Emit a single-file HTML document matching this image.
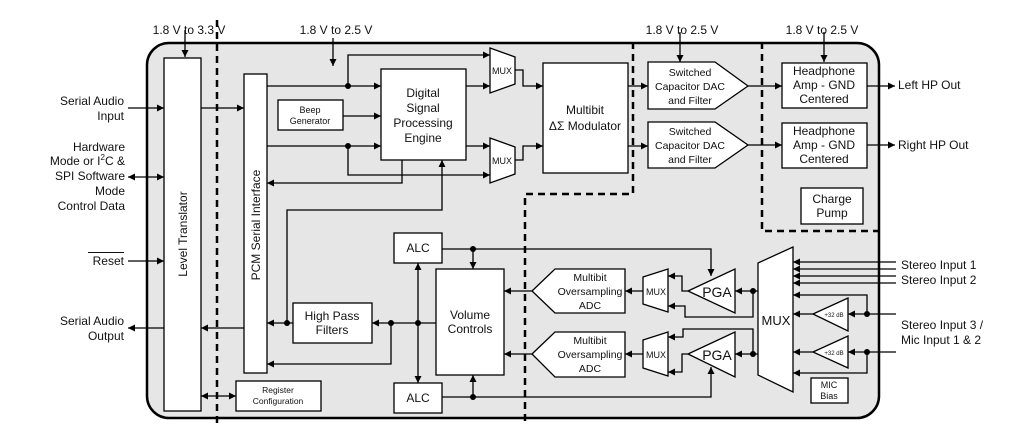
<!DOCTYPE html>
<html><head><meta charset="utf-8"><style>
html,body{margin:0;padding:0;background:#fff;}
svg{display:block;font-family:"Liberation Sans",Arial,sans-serif;}
</style></head><body>
<svg width="1028" height="425" viewBox="0 0 1028 425" xmlns="http://www.w3.org/2000/svg">
<defs>
<marker id="a" viewBox="0 0 10 10" refX="10" refY="5" markerWidth="9" markerHeight="7" markerUnits="userSpaceOnUse" orient="auto-start-reverse"><path d="M0,0L10,5L0,10z" fill="#000"/></marker>
</defs>
<g stroke="#000" stroke-width="1.5" fill="none">
<rect x="147" y="43" width="732" height="375" rx="22" fill="#e6e6e6" stroke-width="2.5"/>
</g>
<g stroke="#000" stroke-width="1.3" fill="#fff">
<rect x="164" y="58" width="37" height="353"/>
<rect x="244" y="74" width="23" height="299"/>
<rect x="381" y="69" width="85" height="91"/>
<rect x="278" y="100" width="65" height="30"/>
<path d="M490,48L515,57L515,84L490,93z"/>
<path d="M490,138L515,147L515,174L490,183z"/>
<rect x="543" y="63" width="85" height="110"/>
<path d="M648,62L715,62L748,86L715,109L648,109z"/>
<path d="M648,122L715,122L748,145L715,168L648,168z"/>
<rect x="782" y="63" width="85" height="45"/>
<rect x="782" y="123" width="85" height="45"/>
<rect x="801" y="188" width="62" height="36"/>
<rect x="394" y="233" width="48" height="30"/>
<rect x="394" y="383" width="48" height="30"/>
<rect x="436" y="269" width="68" height="106"/>
<rect x="293" y="303" width="79" height="40"/>
<rect x="236" y="381" width="85" height="30"/>
<path d="M532,291L555,269L625,269L625,313L555,313z"/>
<path d="M532,354L555,332L625,332L625,377L555,377z"/>
<path d="M643,277L668,269L668,312L643,304z"/>
<path d="M643,340L668,332L668,376L643,368z"/>
<path d="M688,291L735,269L735,313z"/>
<path d="M688,354L735,332L735,377z"/>
<path d="M758,263L793,247L793,392L758,375z"/>
<path d="M813,314L848,298L848,331z"/>
<path d="M813,352L848,336L848,368z"/>
<rect x="811" y="378" width="37" height="25"/>
</g>
<g stroke="#000" stroke-width="2.5" fill="none" stroke-dasharray="7,5">
<path d="M217,20V425"/>
<path d="M633,42V194H525V425"/>
<path d="M762,42V231H879"/>
</g>
<g stroke="#000" stroke-width="1.3" fill="none" marker-end="url(#a)">
<path d="M185,30V57"/>
<path d="M333,38V66"/>
<path d="M680,32V62"/>
<path d="M824,32V62"/>
<path d="M128,108H164"/>
<path d="M128,177H164" marker-start="url(#a)"/>
<path d="M128,261H164"/>
<path d="M164,328H128"/>
<path d="M244,328H201"/>
<path d="M201,108H244"/>
<path d="M201,396H236" marker-start="url(#a)"/>
<path d="M267,86H381"/>
<path d="M348,86V55H490"/>
<path d="M267,146H381"/>
<path d="M348,146V175H490"/>
<path d="M343,116H381"/>
<path d="M466,86H490"/>
<path d="M466,146H490"/>
<path d="M402,160V183H267"/>
<path d="M287,323V210H442V160"/>
<path d="M293,323H267"/>
<path d="M436,323H372"/>
<path d="M391,323V364H267"/>
<path d="M418,323V263"/>
<path d="M418,323V383"/>
<path d="M442,249H711V276"/>
<path d="M473,249V269"/>
<path d="M442,397H711V367"/>
<path d="M473,397V375"/>
<path d="M515,70H523V86H543"/>
<path d="M515,160H523V146H543"/>
<path d="M628,86H648"/>
<path d="M628,146H648"/>
<path d="M748,86H782"/>
<path d="M748,145H782"/>
<path d="M867,86H895"/>
<path d="M867,145H895"/>
<path d="M532,291H504"/>
<path d="M532,354H504"/>
<path d="M643,291H625"/>
<path d="M643,354H625"/>
<path d="M688,291H682V276H668"/>
<path d="M753,291V317H685V306H668"/>
<path d="M758,291H735"/>
<path d="M753,354V329H683V337H668"/>
<path d="M688,354H682V372H668"/>
<path d="M758,354H735"/>
<path d="M896,262H793"/>
<path d="M896,269H793"/>
<path d="M896,276H793"/>
<path d="M896,283H793"/>
<path d="M896,314H848"/>
<path d="M867,314V295H793"/>
<path d="M813,314H793"/>
<path d="M896,352H848"/>
<path d="M867,352V373H793"/>
<path d="M813,352H793"/>
</g>
<g fill="#000">
<circle cx="348" cy="86" r="3"/><circle cx="348" cy="146" r="3"/>
<circle cx="287" cy="323" r="3"/><circle cx="391" cy="323" r="3"/><circle cx="418" cy="323" r="3"/>
<circle cx="473" cy="249" r="3"/><circle cx="473" cy="397" r="3"/>
<circle cx="753" cy="291" r="3"/><circle cx="753" cy="354" r="3"/>
<circle cx="867" cy="314" r="3"/><circle cx="867" cy="352" r="3"/>
</g>
<g font-size="12" fill="#111" text-anchor="middle">
<text x="189" y="34">1.8 V to 3.3 V</text>
<text x="336" y="34">1.8 V to 2.5 V</text>
<text x="682" y="34">1.8 V to 2.5 V</text>
<text x="822" y="34">1.8 V to 2.5 V</text>
<text x="423" y="97">Digital</text><text x="423" y="112">Signal</text><text x="423" y="127">Processing</text><text x="423" y="142">Engine</text>
<text x="310" y="113" font-size="9">Beep</text><text x="310" y="124" font-size="9">Generator</text>
<text x="502" y="74" font-size="9">MUX</text><text x="502" y="164" font-size="9">MUX</text>
<text x="585" y="114">Multibit</text><text x="585" y="130">ΔΣ Modulator</text>
<text x="690" y="76" font-size="10.5">Switched</text><text x="690" y="90" font-size="10.5">Capacitor DAC</text><text x="690" y="104" font-size="10.5">and Filter</text>
<text x="690" y="135" font-size="10.5">Switched</text><text x="690" y="149" font-size="10.5">Capacitor DAC</text><text x="690" y="163" font-size="10.5">and Filter</text>
<text x="824" y="75">Headphone</text><text x="824" y="89">Amp - GND</text><text x="824" y="103">Centered</text>
<text x="824" y="135">Headphone</text><text x="824" y="149">Amp - GND</text><text x="824" y="163">Centered</text>
<text x="832" y="203">Charge</text><text x="832" y="217">Pump</text>
<text x="418" y="252">ALC</text><text x="418" y="402">ALC</text>
<text x="470" y="319">Volume</text><text x="470" y="333">Controls</text>
<text x="332" y="320">High Pass</text><text x="332" y="334">Filters</text>
<text x="278" y="393" font-size="8.5">Register</text><text x="278" y="404" font-size="8.5">Configuration</text>
<text x="590" y="281" font-size="10.5">Multibit</text><text x="590" y="295" font-size="10.5">Oversampling</text><text x="590" y="309" font-size="10.5">ADC</text>
<text x="590" y="344" font-size="10.5">Multibit</text><text x="590" y="358" font-size="10.5">Oversampling</text><text x="590" y="372" font-size="10.5">ADC</text>
<text x="656" y="295" font-size="9">MUX</text><text x="656" y="358" font-size="9">MUX</text>
<text x="717" y="297" font-size="14">PGA</text><text x="717" y="360" font-size="14">PGA</text>
<text x="776" y="325" font-size="13">MUX</text>
<text x="834" y="317" font-size="6">+32 dB</text><text x="834" y="355" font-size="6">+32 dB</text>
<text x="829" y="388" font-size="9">MIC</text><text x="829" y="399" font-size="9">Bias</text>
</g>
<g font-size="12" fill="#111" text-anchor="end">
<text x="124" y="105">Serial Audio</text><text x="124" y="120">Input</text>
<text x="125" y="151">Hardware</text><text x="125" y="165">Mode or I<tspan font-size="8" dy="-5">2</tspan><tspan dy="5">C &amp;</tspan></text>
<text x="125" y="180">SPI Software</text><text x="125" y="195">Mode</text><text x="125" y="210">Control Data</text>
<text x="124" y="265">Reset</text>
<text x="124" y="325">Serial Audio</text><text x="124" y="340">Output</text>
</g>
<path d="M88,252.5H124" stroke="#111" stroke-width="1"/>
<g font-size="12" fill="#111">
<text x="898" y="89">Left HP Out</text>
<text x="898" y="149">Right HP Out</text>
<text x="901" y="269">Stereo Input 1</text>
<text x="901" y="284">Stereo Input 2</text>
<text x="901" y="329">Stereo Input 3 /</text>
<text x="901" y="344">Mic Input 1 &amp; 2</text>
</g>
<g font-size="12" fill="#111" text-anchor="middle">
<text transform="translate(187,234) rotate(-90)">Level Translator</text>
<text transform="translate(260,225) rotate(-90)">PCM Serial Interface</text>
</g>
</svg>
</body></html>
